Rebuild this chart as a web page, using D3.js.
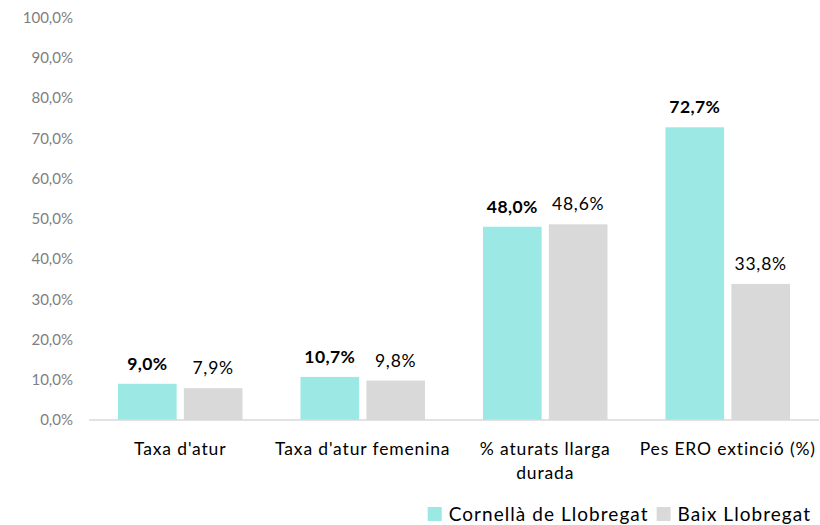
<!DOCTYPE html>
<html>
<head>
<meta charset="utf-8">
<script src="https://cdn.jsdelivr.net/npm/d3@7"></script>
<style>
  body { margin: 0; background: #fff; }
  svg { display: block; font-family: Lato, "Open Sans", sans-serif; }
</style>
</head>
<body>
<svg id="chart" width="820" height="525"></svg>
<script>
var categories = ["Taxa d'atur", "Taxa d'atur femenina", "% aturats llarga durada", "Pes ERO extinció (%)"];
var seriesNames = ["Cornellà de Llobregat", "Baix Llobregat"];
var cornella = [9.0, 10.7, 48.0, 72.7];
var baix = [7.9, 9.8, 48.6, 33.8];
var yTicks = [0, 10, 20, 30, 40, 50, 60, 70, 80, 90, 100];
var colors = ["#9ce8e4", "#d9d9d9"];

var svg = d3.select('#chart');

var x = d3.scaleBand()
    .domain(categories)
    .range([89, 819])
    .paddingInner(0)
    .paddingOuter(0);

var x1 = d3.scaleBand()
    .domain(seriesNames)
    .range([29, x.bandwidth() - 29])
    .paddingInner(0.11);

var y = d3.scaleLinear()
    .domain([0, 100])
    .range([420, 17.4]);

function pct(v) {
    return d3.format('.1f')(v).replace('.', ',') + '%';
}

// y axis labels (no line, no gridlines)
svg.append('g')
    .selectAll('text')
    .data(yTicks)
    .join('text')
    .attr('x', 73)
    .attr('y', function(d) { return y(d); })
    .attr('dy', '0.36em')
    .attr('text-anchor', 'end')
    .attr('fill', '#808080')
    .style('font-size', '15px')
    .text(pct);

// bars
var rows = categories.map(function(c, i) {
    return [
        { cat: c, s: seriesNames[0], v: cornella[i], k: 0 },
        { cat: c, s: seriesNames[1], v: baix[i], k: 1 }
    ];
});

var groups = svg.append('g')
    .selectAll('g')
    .data(rows)
    .join('g')
    .attr('transform', function(d) {
        return 'translate(' + x(d[0].cat) + ',0)';
    });

groups.selectAll('rect')
    .data(function(d) { return d; })
    .join('rect')
    .attr('x', function(d) { return x1(d.s); })
    .attr('y', function(d) { return y(d.v); })
    .attr('width', x1.bandwidth())
    .attr('height', function(d) { return y(0) - y(d.v); })
    .attr('fill', function(d) { return colors[d.k]; });

groups.selectAll('text')
    .data(function(d) { return d; })
    .join('text')
    .attr('x', function(d) { return x1(d.s) + x1.bandwidth() / 2; })
    .attr('y', function(d) { return y(d.v) - 14; })
    .attr('text-anchor', 'middle')
    .attr('fill', '#000')
    .style('font-size', '17.5px')
    .style('letter-spacing', function(d) { return d.k === 0 ? '0.4px' : '0.8px'; })
    .style('font-weight', function(d) { return d.k === 0 ? 'bold' : 'normal'; })
    .text(function(d) { return pct(d.v); });

// x axis line
svg.append('line')
    .attr('x1', x.range()[0])
    .attr('x2', x.range()[1])
    .attr('y1', y(0))
    .attr('y2', y(0))
    .attr('stroke', '#d9d9d9')
    .attr('stroke-width', 1.5);

// category labels, wrapped to band width
var catLabels = svg.append('g')
    .selectAll('text')
    .data(categories)
    .join('text')
    .attr('y', 455)
    .attr('text-anchor', 'middle')
    .attr('fill', '#000')
    .style('font-size', '17.5px')
    .style('letter-spacing', '0.85px');

catLabels.each(function(d) {
    var el = d3.select(this);
    var words = d.split(' ');
    var line = [];
    var cx = x(d) + x.bandwidth() / 2;
    var ts = el.append('tspan').attr('x', cx).attr('dy', 0);
    words.forEach(function(word) {
        line.push(word);
        ts.text(line.join(' '));
        if (ts.node().getComputedTextLength() > x.bandwidth() && line.length > 1) {
            line.pop();
            ts.text(line.join(' '));
            line = [word];
            ts = el.append('tspan').attr('x', cx).attr('dy', 24).text(word);
        }
    });
});

// legend, right aligned
var legend = svg.append('g');
var items = legend.selectAll('g')
    .data(seriesNames)
    .join('g');

items.append('rect')
    .attr('width', 14)
    .attr('height', 14)
    .attr('y', 507)
    .attr('fill', function(d, i) { return colors[i]; });

items.append('text')
    .attr('x', 21)
    .attr('y', 521)
    .attr('fill', '#000')
    .style('font-size', '19px')
    .style('letter-spacing', '1.05px')
    .text(function(d) { return d; });

var xs = [];
var cursor = 811;
items.nodes().slice().reverse().forEach(function(node) {
    var tw = d3.select(node).select('text').node().getComputedTextLength();
    cursor -= tw + 21;
    xs.unshift(cursor);
    cursor -= 8;
});
items.attr('transform', function(d, i) { return 'translate(' + xs[i] + ',0)'; });
</script>
</body>
</html>
